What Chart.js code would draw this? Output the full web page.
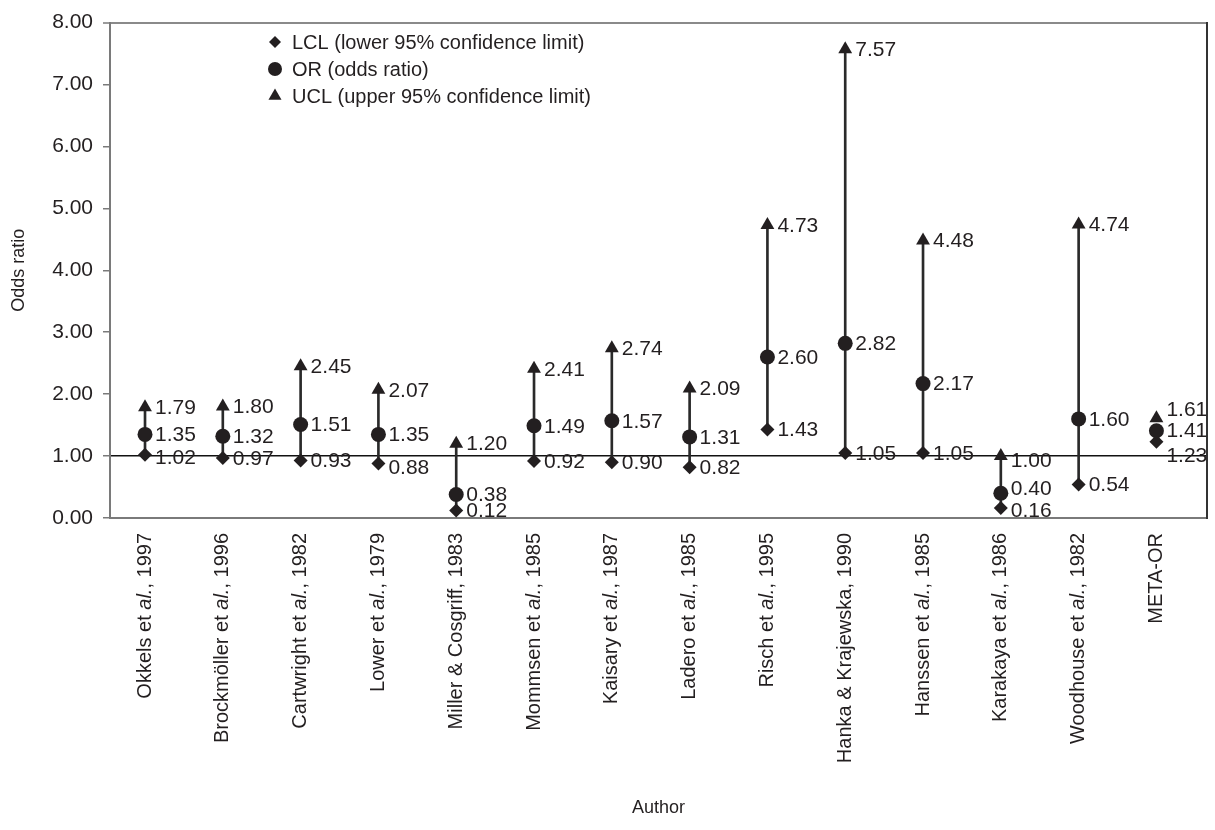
<!DOCTYPE html>
<html>
<head>
<meta charset="utf-8">
<script src="https://cdn.jsdelivr.net/npm/chart.js@4/dist/chart.umd.min.js"></script>
<style>
  html, body { margin: 0; padding: 0; background: #fff; }
  #wrap { width: 1215px; height: 830px; position: relative; }
</style>
</head>
<body>
<div id="wrap"><canvas id="oddsChart"></canvas></div>
<script>
const authors = [
  'Okkels et al., 1997',
  'Brockmöller et al., 1996',
  'Cartwright et al., 1982',
  'Lower et al., 1979',
  'Miller & Cosgriff, 1983',
  'Mommsen et al., 1985',
  'Kaisary et al., 1987',
  'Ladero et al., 1985',
  'Risch et al., 1995',
  'Hanka & Krajewska, 1990',
  'Hanssen et al., 1985',
  'Karakaya et al., 1986',
  'Woodhouse et al., 1982',
  'META-OR',
];
const lcl = [1.02, 0.97, 0.93, 0.88, 0.12, 0.92, 0.90, 0.82, 1.43, 1.05, 1.05, 0.16, 0.54, 1.23];
const oddsRatio = [1.35, 1.32, 1.51, 1.35, 0.38, 1.49, 1.57, 1.31, 2.60, 2.82, 2.17, 0.40, 1.60, 1.41];
const ucl = [1.79, 1.80, 2.45, 2.07, 1.20, 2.41, 2.74, 2.09, 4.73, 7.57, 4.48, 1.00, 4.74, 1.61];
const yTicks = [0, 1, 2, 3, 4, 5, 6, 7, 8];
const seriesNames = [
  'LCL (lower 95% confidence limit)',
  'OR (odds ratio)',
  'UCL (upper 95% confidence limit)',
];

// label nudges (px) where the printed numbers were moved apart
const labelShift = {
  lcl: { 0: 2, 3: 4, 11: 2, 13: 13 },
  or: { 11: -5 },
  ucl: { 11: 4, 13: -9 },
};

const INK = '#231f20';
const FAMILY = '"Liberation Sans", Arial, sans-serif';
const NUM_FONT = '21px ' + FAMILY;
const TEXT_FONT = '20px ' + FAMILY;
const ITALIC_FONT = 'italic 20px ' + FAMILY;

function toPoints(values) {
  return values.map((v, i) => ({ x: i, y: v }));
}

const intervals = authors
  .map((name, i) => (name === 'META-OR' ? null : { x: i, y: [lcl[i], ucl[i]] }))
  .filter(Boolean);

const valueLabels = {
  id: 'valueLabels',
  afterDatasetsDraw(chart) {
    const { ctx } = chart;
    const keys = ['lcl', 'or', 'ucl'];
    ctx.save();
    ctx.font = NUM_FONT;
    ctx.fillStyle = INK;
    ctx.textAlign = 'left';
    ctx.textBaseline = 'middle';
    [1, 2, 3].forEach((dsIndex, k) => {
      const ds = chart.data.datasets[dsIndex];
      const meta = chart.getDatasetMeta(dsIndex);
      meta.data.forEach((pt, i) => {
        const dy = labelShift[keys[k]][i] || 0;
        ctx.fillText(ds.data[i].y.toFixed(2), pt.x + 10, pt.y + dy + 1);
      });
    });
    ctx.restore();
  },
};

const authorLabels = {
  id: 'authorLabels',
  afterDraw(chart) {
    const { ctx, scales } = chart;
    const top = chart.chartArea.bottom + 15;
    ctx.save();
    ctx.fillStyle = INK;
    ctx.textBaseline = 'middle';
    authors.forEach((name, i) => {
      const x = scales.x.getPixelForValue(i);
      const parts = [];
      const at = name.indexOf('al.');
      if (at >= 0) {
        parts.push([name.slice(0, at), TEXT_FONT]);
        parts.push(['al.', ITALIC_FONT]);
        parts.push([name.slice(at + 3), TEXT_FONT]);
      } else {
        parts.push([name, TEXT_FONT]);
      }
      let total = 0;
      parts.forEach((p) => { ctx.font = p[1]; total += ctx.measureText(p[0]).width; });
      ctx.save();
      ctx.translate(x, top);
      ctx.rotate(-Math.PI / 2);
      let cursor = -total;
      parts.forEach((p) => {
        ctx.font = p[1];
        ctx.textAlign = 'left';
        ctx.fillText(p[0], cursor, 0);
        cursor += ctx.measureText(p[0]).width;
      });
      ctx.restore();
    });
    ctx.restore();
  },
};

function drawMarker(ctx, style, x, y, r) {
  ctx.beginPath();
  if (style === 'circle') {
    ctx.arc(x, y, r, 0, Math.PI * 2);
  } else if (style === 'rectRot') {
    ctx.moveTo(x, y - r);
    ctx.lineTo(x + r, y);
    ctx.lineTo(x, y + r);
    ctx.lineTo(x - r, y);
  } else {
    ctx.moveTo(x, y - r);
    ctx.lineTo(x + r * 0.87, y + r * 0.5);
    ctx.lineTo(x - r * 0.87, y + r * 0.5);
  }
  ctx.closePath();
  ctx.fill();
}

const cornerLegend = {
  id: 'cornerLegend',
  afterDraw(chart) {
    const { ctx } = chart;
    const styles = ['rectRot', 'circle', 'triangle'];
    const sizes = [6, 7, 7.5];
    ctx.save();
    ctx.fillStyle = INK;
    ctx.font = TEXT_FONT;
    ctx.textBaseline = 'middle';
    ctx.textAlign = 'left';
    seriesNames.forEach((name, k) => {
      const y = 42 + k * 27;
      drawMarker(ctx, styles[k], 275, y, sizes[k]);
      ctx.fillText(name, 292, y + 1);
    });
    ctx.restore();
  },
};

function pointSet(label, values, style, radius, order) {
  return {
    type: 'scatter',
    label,
    data: toPoints(values),
    pointStyle: style,
    pointRadius: radius,
    pointHoverRadius: radius,
    backgroundColor: INK,
    borderColor: INK,
    borderWidth: 0,
    order,
  };
}

new Chart(document.getElementById('oddsChart'), {
  type: 'bar',
  data: {
    datasets: [
      {
        type: 'bar',
        label: 'interval',
        data: intervals,
        backgroundColor: '#2a2a2a',
        barThickness: 2,
        order: 10,
      },
      pointSet(seriesNames[0], lcl, 'rectRot', 7, 3),
      pointSet(seriesNames[1], oddsRatio, 'circle', 7.5, 2),
      pointSet(seriesNames[2], ucl, 'triangle', 8, 1),
    ],
  },
  options: {
    responsive: true,
    maintainAspectRatio: false,
    animation: false,
    layout: { padding: { top: 20, right: 0, bottom: 0, left: 0 } },
    plugins: {
      legend: { display: false },
      tooltip: { enabled: false },
    },
    scales: {
      x: {
        type: 'linear',
        offset: false,
        min: -0.45,
        max: 13.65,
        grid: { display: false, offset: false },
        border: { display: true, color: '#7a7a7a', width: 2 },
        ticks: { display: false },
        title: {
          display: true,
          text: 'Author',
          color: INK,
          font: { family: FAMILY, size: 18 },
          padding: { top: 0, bottom: 11 },
        },
        afterFit(scale) { scale.height = 312; },
      },
      y: {
        min: 0,
        max: 8,
        afterBuildTicks(scale) { scale.ticks = yTicks.map((v) => ({ value: v })); },
        ticks: {
          color: INK,
          padding: 10,
          font: { family: FAMILY, size: 21 },
          callback: (v) => Number(v).toFixed(2),
        },
        grid: {
          color: (c) => (c.tick && c.tick.value === 1 ? '#111' : c.tick && c.tick.value === 8 ? '#8a8a8a' : 'rgba(0,0,0,0)'),
          lineWidth: (c) => (c.tick && c.tick.value === 8 ? 2 : 1.5),
          tickColor: '#7a7a7a',
          tickLength: 7,
          tickWidth: 1.5,
        },
        border: { display: true, color: '#7a7a7a', width: 2 },
        title: {
          display: true,
          text: 'Odds ratio',
          color: INK,
          font: { family: FAMILY, size: 18 },
          padding: { top: 8, bottom: 0 },
        },
        afterFit(scale) { scale.width = 110; },
      },
      frame: {
        position: 'right',
        axis: 'y',
        ticks: { display: false },
        grid: { display: false },
        border: { display: true, color: '#333', width: 2 },
        afterFit(scale) { scale.width = 0; },
      },
    },
  },
  plugins: [valueLabels, authorLabels, cornerLegend],
});
</script>
</body>
</html>
